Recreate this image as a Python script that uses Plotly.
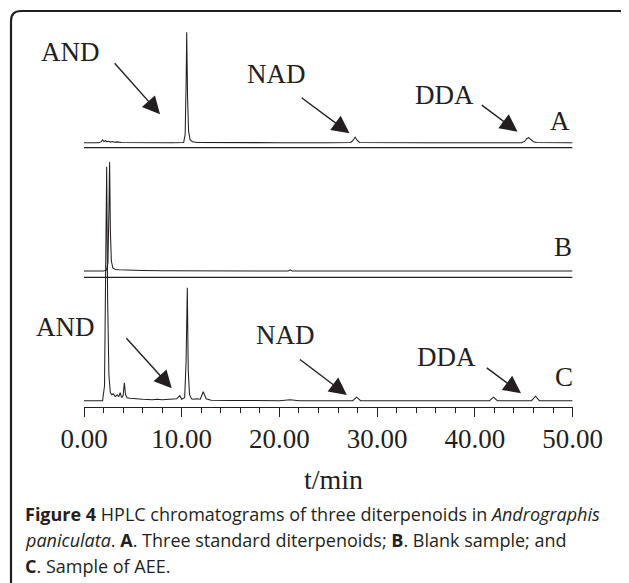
import plotly.graph_objects as go

# ---------------- data (retention time in min, detector response in arbitrary units) -------------
time_A = [0, 1.5, 1.75, 1.9, 2.05, 2.2, 2.35, 2.5, 2.7, 2.9, 3.1, 3.4, 3.8, 5.0, 7.0, 9.0,
          10.2, 10.35, 10.45, 10.51, 10.6, 10.7, 10.85, 11.1, 11.6, 15, 20, 25,
          27.3, 27.55, 27.75, 27.95, 28.2, 35, 44.8, 45.1, 45.3, 45.5, 45.7, 46.0, 46.3, 50]
signal_A = [0, 0, 0.8, 2.8, 1.2, 2.0, 0.8, 1.6, 0.6, 1.2, 0.4, 0.8, 0.2, 0, 0, 0,
            0.3, 8, 60, 110.4, 45, 12, 3, 1, 0.3, 0, 0, 0,
            0.2, 2.5, 5.5, 2.5, 0.3, 0, 0, 1.5, 4, 5, 3.5, 1, 0.2, 0]

time_B = [0, 2.0, 2.3, 2.45, 2.55, 2.62, 2.7, 2.8, 2.95, 3.2, 3.6, 4.5, 6, 8, 12,
          20.9, 21.1, 21.3, 30, 44, 45, 46, 50]
signal_B = [0, 0, 0.8, 8, 60, 109, 40, 10, 3, 1.6, 1.2, 0.8, 0.5, 0.2, 0,
            0, 1.2, 0, 0, 0, 0.6, 0, 0]

time_C = [0, 1.9, 2.1, 2.22, 2.32, 2.42, 2.55, 2.7, 2.85, 3.0,
          3.2, 3.4, 3.55, 3.7, 3.85, 4.0, 4.13, 4.25, 4.4, 4.7,
          5.2, 6, 7, 7.5, 8, 9, 9.5, 9.8, 10.0, 10.3,
          10.45, 10.57, 10.67, 10.8, 11.0, 11.2, 11.5, 11.9, 12.2, 12.5,
          13, 15, 20, 21.1, 22, 27.5, 27.9, 28.3, 35, 41.5,
          41.9, 42.3, 45.8, 46.2, 46.6, 50]
signal_C = [0, 0, 15, 120, 234, 100, 25, 8, 6, 7,
            4, 6, 4, 8, 3, 5, 18, 6, 3, 2.5,
            2, 1.5, 1.0, 1.5, 1.0, 1.2, 2, 5, 1.5, 3,
            40, 113, 30, 6, 2, 1.5, 2.0, 1.5, 9, 2,
            0.5, 0.3, 0, 1, 0, 0, 3.5, 0, 0, 0,
            3.5, 0, 0, 4.5, 0, 0]

tick_values = [0, 10, 20, 30, 40, 50]
tick_labels = ["0.00", "10.00", "20.00", "30.00", "40.00", "50.00"]
trace_names = ["A", "B", "C"]
compound_labels = ["AND", "NAD", "DDA"]

# ---------------- layout constants ----------------
OFF = 8                      # page body margin of the browser
W, H = 629 - OFF, 583 - OFF
INK = "#231f20"
SERIF = "Liberation Serif, Times New Roman, serif"
SANS = "Open Sans, Noto Sans, sans-serif"

baseline = {"A": 264.6, "B": 136.3, "C": 6.6}     # vertical stacking offsets
separators = [259.6, 130.0]

fig = go.Figure()
for name, t, s in [("A", time_A, signal_A), ("B", time_B, signal_B), ("C", time_C, signal_C)]:
    fig.add_trace(go.Scatter(
        x=t, y=[v + baseline[name] for v in s], mode="lines", name=name,
        line=dict(color=INK, width=1.05), showlegend=False, cliponaxis=False,
        hoverinfo="skip"))

def px(x):
    return (x - OFF) / W
def py(y):
    return 1 - (y - OFF) / H

shapes = []
for yv in separators:
    shapes.append(dict(type="line", xref="x", yref="y", x0=0, x1=50, y0=yv, y1=yv,
                       line=dict(color=INK, width=1.3)))

# rounded frame (top corners), open at bottom; right side runs along the page edge
r = 10
xl, xr, yt, yb = 11, 630, 11, 600
path = (f"M{px(xl)},{py(yb)} L{px(xl)},{py(yt + r)} Q{px(xl)},{py(yt)} {px(xl + r)},{py(yt)} "
        f"L{px(xr - r)},{py(yt)} Q{px(xr)},{py(yt)} {px(xr)},{py(yt + r)} L{px(xr)},{py(yb)}")
shapes.append(dict(type="path", xref="paper", yref="paper", path=path,
                   line=dict(color=INK, width=2.2)))

annotations = []
# arrows: (tip_x, tip_y, tail_x, tail_y) in data units
arrows = [
    (7.78, 293.0, 3.0, 345.6),
    (27.17, 274.0, 22.12, 310.6),
    (44.37, 275.6, 40.55, 303.3),
    (8.98, 19.0, 4.2, 70.6),
    (26.9, 12.3, 21.95, 49.0),
    (44.72, 14.0, 41.06, 40.6),
]
for x, y, ax, ay in arrows:
    annotations.append(dict(x=x, y=y, ax=ax, ay=ay, xref="x", yref="y", axref="x", ayref="y",
                            text="", showarrow=True, arrowhead=2, arrowsize=2.5,
                            arrowwidth=1.4, arrowcolor=INK, standoff=0))

# text labels, centre positions in page pixels
labels = [
    (compound_labels[0], 70, 52), (compound_labels[1], 276.7, 74), (compound_labels[2], 444, 95),
    (trace_names[0], 560, 120.7), (trace_names[1], 563.3, 246.7), (trace_names[2], 564, 376.7),
    (compound_labels[0], 65, 326.7), (compound_labels[1], 285, 335), (compound_labels[2], 446.3, 356.7),
]
for txt, x, y in labels:
    annotations.append(dict(x=px(x), y=py(y), xref="paper", yref="paper", text=txt, showarrow=False,
                            xanchor="center", yanchor="middle",
                            font=dict(family=SERIF, size=27, color=INK)))

annotations.append(dict(x=px(333), y=py(479), xref="paper", yref="paper", text="t/min",
                        showarrow=False, xanchor="center", yanchor="middle",
                        font=dict(family=SERIF, size=28, color=INK)))

caption = [
    "<b>Figure 4</b> HPLC chromatograms of three diterpenoids in <i>Andrographis</i>",
    "<i>paniculata</i>. <b>A</b>. Three standard diterpenoids; <b>B</b>. Blank sample; and",
    "<b>C</b>. Sample of AEE.",
]
for i, line in enumerate(caption):
    annotations.append(dict(x=px(23), y=py(514 + 26 * i), xref="paper", yref="paper", text=line,
                            showarrow=False, xanchor="left", yanchor="middle",
                            font=dict(family=SANS, size=18, color=INK)))

fig.update_layout(
    template="none",
    width=W, height=H, autosize=False,
    margin=dict(l=0, r=0, t=0, b=0, pad=0, autoexpand=False),
    paper_bgcolor="white", plot_bgcolor="white",
    shapes=shapes, annotations=annotations,
    xaxis=dict(range=[0, 50], domain=[px(84), px(572.6)], tickvals=tick_values, ticktext=tick_labels,
               ticks="outside", ticklen=9, tickwidth=1.3, tickcolor=INK, ticklabelstandoff=-2,
               minor=dict(dtick=2, ticks="outside", ticklen=5, tickwidth=1.3, tickcolor=INK),
               showline=True, linewidth=1.3, linecolor=INK, showgrid=False, zeroline=False,
               automargin=False,
               tickfont=dict(family=SERIF, size=27, color=INK), fixedrange=True),
    yaxis=dict(range=[0, 390], domain=[py(407.3), py(17.3)], visible=False, fixedrange=True,
               automargin=False),
)

fig.write_html("out.html")
